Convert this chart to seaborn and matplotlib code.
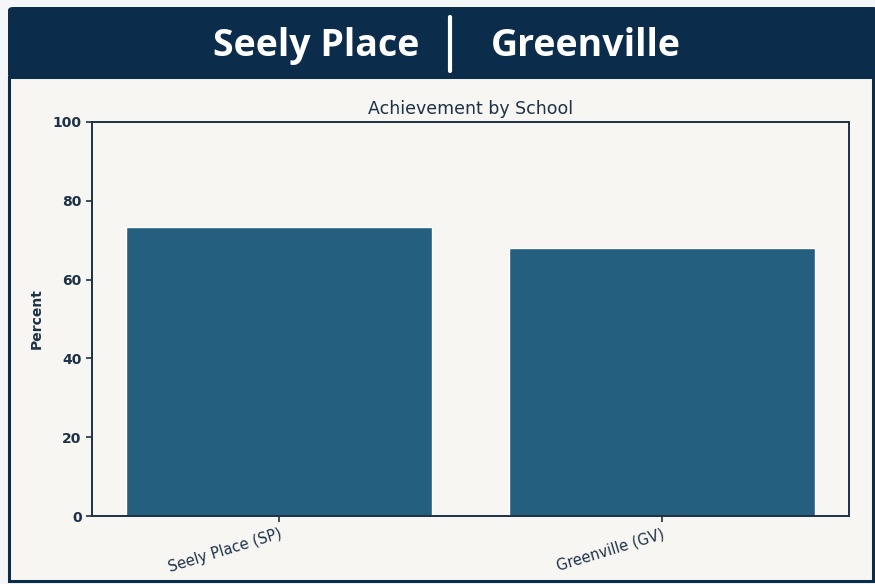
"""
Achievement by School: bar chart comparing Seely Place and Greenville
"""

import matplotlib
matplotlib.use('Agg')
import matplotlib.pyplot as plt
from matplotlib.patches import Rectangle, FancyBboxPatch
from matplotlib.lines import Line2D
import seaborn as sns

# Data
schools = ['Seely Place (SP)', 'Greenville (GV)']
percent = [73.3, 68.0]
header_left = 'Seely Place'
header_right = 'Greenville'
y_ticks = [0, 20, 40, 60, 80, 100]

# Colours
NAVY = '#0c2c4c'
BAR = '#255f80'
INK = '#1d3147'
PANEL = '#f7f6f2'

sns.set_style('white')
plt.rcParams['font.family'] = ['DejaVu Sans']

W, H = 875, 584
fig = plt.figure(figsize=(W / 100, H / 100), dpi=100)
fig.patch.set_facecolor('#f4f6f7')


def fx(px):
    return px / W


def fy(py):
    return 1 - py / H


# panel with navy frame
fig.patches.append(Rectangle((fx(9), fy(581)), fx(864), (581 - 77) / H,
                             transform=fig.transFigure, facecolor=PANEL,
                             edgecolor=NAVY, linewidth=2.2, zorder=-2))
# header band
fig.patches.append(FancyBboxPatch((fx(8), fy(78)), fx(870), (78 - 7) / H,
                                  boxstyle='round,pad=0,rounding_size=0.006',
                                  transform=fig.transFigure, facecolor=NAVY,
                                  edgecolor='none', zorder=-1))
fig.text(fx(419), fy(46), header_left, ha='right', va='center',
         color='white', fontsize=27, fontweight='bold', family='Open Sans')
fig.text(fx(491), fy(46), header_right, ha='left', va='center',
         color='white', fontsize=27, fontweight='bold', family='Open Sans')
fig.lines.append(Line2D([fx(450), fx(450)], [fy(17), fy(71)],
                        transform=fig.transFigure, color='white',
                        linewidth=3, zorder=3))

# chart axes
ax = fig.add_axes([fx(92), fy(516), fx(849 - 92), (516 - 122) / H])
ax.set_zorder(2)
ax.set_facecolor(PANEL)
sns.barplot(x=schools, y=percent, color=BAR, saturation=1, width=0.8,
            ax=ax)
ax.set_xlim(-0.49, 1.49)
ax.set_ylim(0, 100)
ax.set_yticks(y_ticks)
ax.set_title('Achievement by School', fontsize=12.5, color=INK, pad=6)
ax.set_ylabel('Percent', fontsize=10, color=INK, labelpad=6,
              fontweight='bold')
ax.set_xlabel('')
for side in ax.spines.values():
    side.set_color(INK)
    side.set_linewidth(1.4)
ax.tick_params(axis='both', colors=INK, labelsize=10, length=4, width=1.2,
               left=True, bottom=True)
for lab in ax.get_yticklabels():
    lab.set_fontweight('bold')
plt.setp(ax.get_xticklabels(), rotation=17, ha='right',
         rotation_mode='anchor', fontsize=10.5)

fig.savefig('out.png', dpi=100, facecolor=fig.get_facecolor())
